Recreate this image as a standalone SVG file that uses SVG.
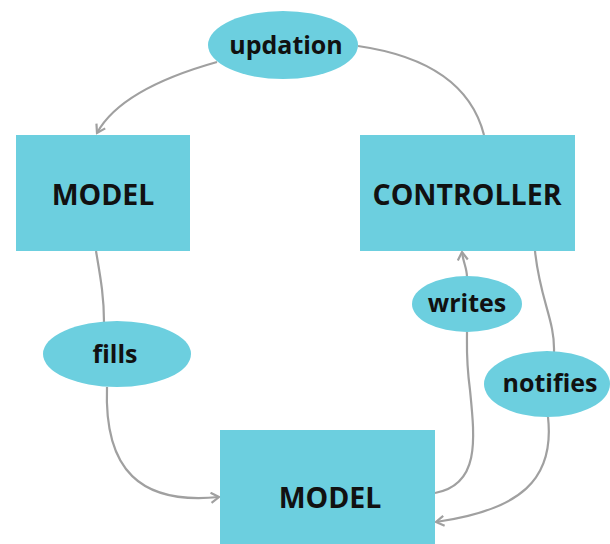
<svg xmlns="http://www.w3.org/2000/svg" width="610" height="544" viewBox="0 0 610 544">
<style>
.box{fill:#6ccfdf}
.ell{fill:#6ccfdf}
.t{font-family:"Open Sans",sans-serif;font-weight:bold;fill:#111;text-anchor:middle}
.big{font-size:28.5px}
.lbl{font-size:25px}
.c{fill:none;stroke:#a0a0a0;stroke-width:2.2}
</style>
<defs>
<marker id="arr" viewBox="0 0 12 12" refX="10" refY="6" markerWidth="12" markerHeight="12" markerUnits="userSpaceOnUse" orient="auto">
<path d="M2,1 L10,6 L2,11" fill="none" stroke="#a0a0a0" stroke-width="2.2"/>
</marker>
</defs>
<rect width="610" height="544" fill="#fff"/>
<g id="connectors">
<path class="c" d="M217,62 C160,78 115,100 97,133" marker-end="url(#arr)"/>
<path class="c" d="M484,135 C470,80 420,55 358,46"/>
<path class="c" d="M96,251 C100,275 104,295 104,322"/>
<path class="c" d="M107,387 C104,470 140,505 219,497" marker-end="url(#arr)"/>
<path class="c" d="M435,493 C480,485 475,440 470,390 C466,360 467,345 467,332"/>
<path class="c" d="M467,277 C467,268 463,262 462,252" marker-end="url(#arr)"/>
<path class="c" d="M535,251 C540,300 555,320 554,352"/>
<path class="c" d="M548,417 C555,480 520,510 436,522" marker-end="url(#arr)"/>
</g>
<g id="model-top">
<rect class="box" x="16" y="135" width="174" height="116"/>
<text class="t big" x="103" y="205">MODEL</text>
</g>
<g id="controller">
<rect class="box" x="360" y="135" width="215" height="116"/>
<text class="t big" x="467" y="205">CONTROLLER</text>
</g>
<g id="model-bottom">
<rect class="box" x="220" y="430" width="215" height="114"/>
<text class="t big" x="330" y="508">MODEL</text>
</g>
<g id="updation">
<ellipse class="ell" cx="283" cy="45" rx="75" ry="34"/>
<text class="t lbl" x="286" y="54">updation</text>
</g>
<g id="fills">
<ellipse class="ell" cx="117" cy="354" rx="74" ry="33"/>
<text class="t lbl" x="115" y="363">fills</text>
</g>
<g id="writes">
<ellipse class="ell" cx="467" cy="304" rx="55" ry="28"/>
<text class="t lbl" x="467" y="312">writes</text>
</g>
<g id="notifies">
<ellipse class="ell" cx="547" cy="384" rx="63" ry="33"/>
<text class="t lbl" x="550" y="392">notifies</text>
</g>
</svg>
